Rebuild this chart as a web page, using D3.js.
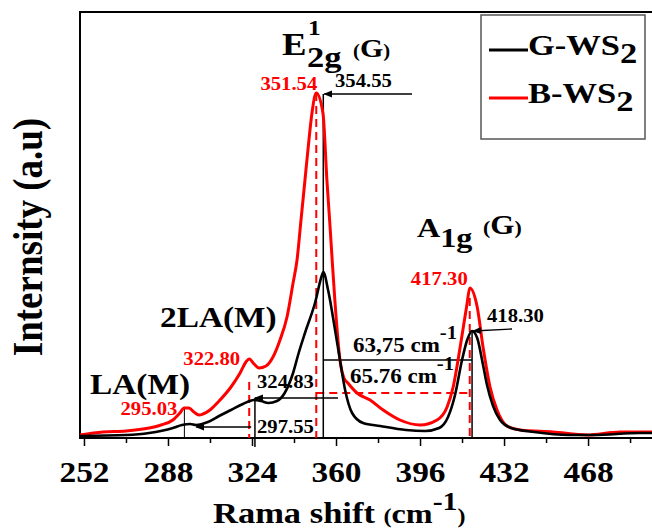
<!DOCTYPE html>
<html lang="en">
<head>
<meta charset="UTF-8">
<title>Raman spectra G-WS2 / B-WS2</title>
<script src="https://cdnjs.cloudflare.com/ajax/libs/d3/7.8.5/d3.min.js"></script>
<style>
  body { margin: 0; background: #fff; }
  svg { display: block; }
  text { font-family: "Liberation Serif", "Times New Roman", serif; font-weight: bold; }
</style>
</head>
<body>
<svg id="chart" width="652" height="528"></svg>
<script>
// B-WS2 (red) spectrum
const shiftB = [250.3, 260.1, 270, 279.9, 285, 290.1, 293.1, 294.9, 297, 299.1, 301.3, 303, 306, 309.9, 315,
  318.9, 321.4, 322.8, 324.9, 327, 330, 333, 336, 339, 341.6, 343.3, 345, 346.7, 348.4, 349.7, 351.54,
  354.4, 356.1, 357.4, 358.3, 359.5, 361.7, 363.4, 365.1, 369, 374.6, 380.2, 387.4, 396, 403.3, 407.6,
  410.2, 413.2, 416.2, 417.3, 420.5, 423, 426, 429, 433.3, 438.9, 453, 467.6, 481.7, 495.5];
const intB = [3, 6, 7, 10, 13, 18, 25, 30, 30, 26, 23, 24, 28, 37, 51,
  65, 76, 79, 74, 70, 72, 81, 98, 121, 155, 178, 218, 258, 298, 325, 345,
  325, 258, 213, 180, 138, 78, 60, 55, 45, 38, 28, 18, 13, 18, 31,
  51, 91, 135, 150, 131, 91, 51, 28, 12, 8, 6, 3, 6, 6];

// G-WS2 (black) spectrum
const shiftG = [250.3, 270, 279.9, 290.1, 294, 297.55, 300, 305.1, 309.9, 315, 320.1, 324.83, 327.9, 331,
  334.7, 338, 341.6, 344, 346.7, 351, 354, 354.55, 356.6, 359.6, 361.7, 363.9, 366.9, 371.6, 378.9, 390,
  398.2, 404.2, 408, 411, 414, 416.2, 418.3, 420.5, 423, 424.7, 427.3, 430.3, 435, 444.9, 459.9, 470.2,
  490.3, 495.5];
const intG = [2, 3, 5, 10, 13, 14, 13, 16, 22, 28, 34, 38, 37, 35,
  37, 45, 65, 85, 105, 135, 163, 166, 148, 108, 78, 48, 25, 15, 12, 8,
  7, 10, 21, 43, 78, 98, 107, 100, 73, 53, 32, 18, 10, 6, 3, 3,
  5, 5];

const majorTicks = [252, 288, 324, 360, 396, 432, 468];
const minorTicks = [270, 306, 342, 378, 414, 450, 486];

const peaksB = [295.03, 322.80, 351.54, 417.30];
const peaksG = [297.55, 324.83, 354.55, 418.30];
const fwhmLabels = ["63,75 cm", "65.76 cm"];
const fwhmLevels = [78, 45]; // G, B
const seriesNames = ["G-WS", "B-WS"];
const seriesColors = ["#000000", "#ff0000"];

const svg = d3.select("#chart");
const SX = 1.15; // the figure is a bit stretched sideways
const RED = "#ff0000";

const x = d3.scaleLinear().domain([250.3, 495.4]).range([80, 652]);
const y = d3.scaleLinear().domain([0, 426]).range([438, 12]);

function txt(px, py, parts, fill = "#000", anchor = "start", rot = 0) {
  const t = svg.append("text")
    .attr("transform", `translate(${px},${py}) scale(${SX},1)` + (rot ? ` rotate(${rot})` : ""))
    .attr("text-anchor", anchor)
    .attr("fill", fill);
  let cur = 0;
  parts.forEach(p => {
    const s = p.shift || 0;
    t.append("tspan").attr("font-size", p.size).attr("dy", s - cur).text(p.t);
    cur = s;
  });
  return t;
}

svg.append("defs").append("marker")
  .attr("id", "arr").attr("viewBox", "0 -4 9 8")
  .attr("refX", 8).attr("refY", 0)
  .attr("markerWidth", 9).attr("markerHeight", 8)
  .attr("markerUnits", "userSpaceOnUse").attr("orient", "auto")
  .append("path").attr("d", "M0,-3.5L9,0L0,3.5Z").attr("fill", "#000");

// frame (right side runs off the picture)
svg.append("path")
  .attr("d", `M660,12H80V438H660`)
  .attr("fill", "none").attr("stroke", "#000").attr("stroke-width", 2);

// axis ticks
const major = svg.append("g").attr("transform", "translate(0,438)")
  .call(d3.axisBottom(x).tickValues(majorTicks).tickSizeInner(8).tickSizeOuter(0).tickFormat(d3.format("d")));
const minor = svg.append("g").attr("transform", "translate(0,438)")
  .call(d3.axisBottom(x).tickValues(minorTicks).tickSizeInner(5).tickSizeOuter(0).tickFormat(""));
[major, minor].forEach(g => {
  g.select(".domain").remove();
  g.selectAll("line").attr("stroke", "#000").attr("stroke-width", 1.5);
});
major.selectAll("text")
  .attr("y", 44).attr("dy", null)
  .attr("transform", `scale(${SX},1)`)
  .attr("font-size", 29).attr("font-family", null).attr("fill", "#000");

// axis titles
txt(213, 523, [{ t: "Rama shift ", size: 30 }, { t: "(", size: 21 }, { t: "cm", size: 28 },
  { t: "-1", size: 26, shift: -13 }, { t: ")", size: 21 }]);
txt(42, 237, [{ t: "Internsity (a.u)", size: 37 }], "#000", "middle", -90);

// reference lines
const dashed = g => g.attr("stroke", RED).attr("stroke-width", 2).attr("stroke-dasharray", "8,5").attr("fill", "none");
const solid = g => g.attr("stroke", "#000").attr("stroke-width", 1.5).attr("fill", "none");

svg.append("line").attr("x1", x(peaksB[2])).attr("x2", x(peaksB[2])).attr("y1", y(345)).attr("y2", 438).call(dashed);
svg.append("line").attr("x1", x(peaksB[3])).attr("x2", x(peaksB[3])).attr("y1", y(140)).attr("y2", 438).call(dashed);
svg.append("line").attr("x1", x(peaksB[1])).attr("x2", x(peaksB[1])).attr("y1", y(56)).attr("y2", 438).call(dashed);
svg.append("line").attr("x1", x(peaksB[2])).attr("x2", x(peaksB[3])).attr("y1", y(fwhmLevels[1])).attr("y2", y(fwhmLevels[1])).call(dashed);

svg.append("line").attr("x1", x(peaksG[2])).attr("x2", x(peaksG[2])).attr("y1", y(344)).attr("y2", 438).call(solid);
svg.append("line").attr("x1", x(peaksG[3])).attr("x2", x(peaksG[3])).attr("y1", y(107)).attr("y2", 438).call(solid);
svg.append("line").attr("x1", x(peaksG[1]) + 1).attr("x2", x(peaksG[1]) + 1).attr("y1", y(40)).attr("y2", 447).call(solid);
svg.append("line").attr("x1", x(peaksB[0])).attr("x2", x(peaksB[0])).attr("y1", y(30)).attr("y2", 438).call(solid).attr("stroke-width", 1);
svg.append("line").attr("x1", x(peaksG[2])).attr("x2", x(peaksG[3])).attr("y1", y(fwhmLevels[0])).attr("y2", y(fwhmLevels[0])).call(solid);

// curves
const line = d3.line().x(d => x(d[0])).y(d => y(d[1])).curve(d3.curveMonotoneX);
svg.append("path").datum(d3.zip(shiftB, intB)).attr("d", line)
  .attr("fill", "none").attr("stroke", seriesColors[1]).attr("stroke-width", 3).attr("stroke-linejoin", "round");
svg.append("path").datum(d3.zip(shiftG, intG)).attr("d", line)
  .attr("fill", "none").attr("stroke", seriesColors[0]).attr("stroke-width", 2.6).attr("stroke-linejoin", "round");

// arrows to black peaks
const arrow = (x1, y1, x2, y2) => svg.append("line")
  .attr("x1", x1).attr("y1", y1).attr("x2", x2).attr("y2", y2)
  .attr("stroke", "#000").attr("stroke-width", 1.3).attr("marker-end", "url(#arr)");
arrow(412, y(344), x(peaksG[2]) + 1, y(344));
arrow(512, y(109), x(peaksG[3]) + 1, y(107));
arrow(338, y(40), x(peaksG[1]) + 1, y(40));
arrow(x(peaksB[1]) + 2, y(11), x(peaksG[0]) + 6, y(11));

// peak values
const fmt = d3.format(".2f");
txt(x(peaksB[2]) + 1, 90, [{ t: fmt(peaksB[2]), size: 18 }], RED, "end");
txt(335, 87, [{ t: fmt(peaksG[2]), size: 18 }]);
txt(x(peaksB[3]) - 2, 285, [{ t: fmt(peaksB[3]), size: 18 }], RED, "end");
txt(487, 322, [{ t: fmt(peaksG[3]), size: 18 }]);
txt(x(peaksB[1]) - 9, 365, [{ t: fmt(peaksB[1]), size: 18 }], RED, "end");
txt(x(peaksB[0]) - 7, 415, [{ t: fmt(peaksB[0]), size: 18 }], RED, "end");
txt(257, 388, [{ t: fmt(peaksG[1]), size: 18 }]);
txt(257, 433, [{ t: fmt(peaksG[0]), size: 18 }]);

// FWHM labels
txt(353, 352, [{ t: fwhmLabels[0], size: 20 }, { t: "-1", size: 18, shift: -13 }]);
txt(350, 383, [{ t: fwhmLabels[1], size: 20 }, { t: "-1", size: 18, shift: -13 }]);

// mode labels
txt(90, 394, [{ t: "LA(M)", size: 29 }]);
txt(160, 327, [{ t: "2LA(M)", size: 29 }]);
txt(282, 55, [{ t: "E", size: 32 }]);
txt(308, 35, [{ t: "1", size: 22 }]);
txt(307, 67, [{ t: "2g", size: 30 }]);
txt(353, 57, [{ t: "(", size: 18 }, { t: "G", size: 26 }, { t: ")", size: 18 }]);
txt(417, 237, [{ t: "A", size: 28 }, { t: "1g", size: 28, shift: 10 }]);
txt(483, 234, [{ t: "(", size: 19 }, { t: "G", size: 27 }, { t: ")", size: 19 }]);

// legend
svg.append("rect").attr("x", 481).attr("y", 15).attr("width", 164).attr("height", 124)
  .attr("fill", "#fff").attr("stroke", "#555").attr("stroke-width", 1.5);
seriesNames.forEach((name, i) => {
  const ly = 50 + i * 48;
  svg.append("line").attr("x1", 489).attr("x2", 528).attr("y1", ly).attr("y2", ly)
    .attr("stroke", seriesColors[i]).attr("stroke-width", 3);
  txt(528, ly + 5, [{ t: name, size: 30 }, { t: "2", size: 30, shift: 8 }]);
});
</script>
</body>
</html>
